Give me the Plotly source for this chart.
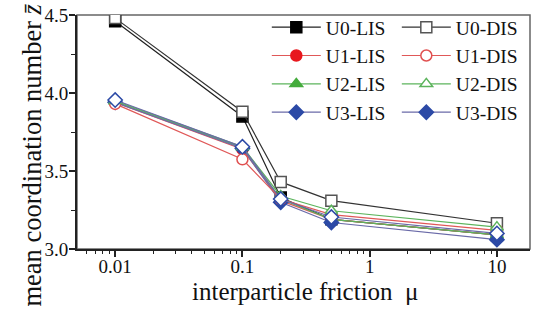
import plotly.graph_objects as go

mu = [0.01, 0.1, 0.2, 0.5, 10]

u0_lis = [4.46, 3.85, 3.33, 3.19, 3.09]
u0_dis = [4.48, 3.88, 3.43, 3.31, 3.165]
u1_lis = [3.94, 3.64, 3.31, 3.19, 3.09]
u1_dis = [3.93, 3.575, 3.32, 3.22, 3.12]
u2_lis = [3.945, 3.65, 3.32, 3.19, 3.09]
u2_dis = [3.95, 3.655, 3.34, 3.245, 3.14]
u3_lis = [3.94, 3.645, 3.30, 3.17, 3.06]
u3_dis = [3.955, 3.655, 3.32, 3.205, 3.10]

x_ticks = [0.01, 0.1, 1, 10]
x_ticktext = ["0.01", "0.1", "1", "10"]
y_ticks = [3.0, 3.5, 4.0, 4.5]
y_ticktext = ["3.0", "3.5", "4.0", "4.5"]

x_title = "interparticle friction  μ"
y_title = "mean coordination number <i>z\u0304</i>"

FONT = "Liberation Serif, Times New Roman, serif"

series = [
    # name, data, line color, marker symbol, marker fill, marker line color, legend
    ("U0-LIS", u0_lis, "#222222", "square", "#000000", "#000000", "legend"),
    ("U1-LIS", u1_lis, "#e05858", "circle", "#e8181e", "#e8181e", "legend"),
    ("U2-LIS", u2_lis, "#5cb45c", "triangle-up", "#44ac3c", "#44ac3c", "legend"),
    ("U3-LIS", u3_lis, "#6a6aa8", "diamond", "#2c4aa6", "#2c4aa6", "legend"),
    ("U0-DIS", u0_dis, "#333333", "square", "#ffffff", "#555555", "legend2"),
    ("U1-DIS", u1_dis, "#e05858", "circle", "#ffffff", "#e05050", "legend2"),
    ("U2-DIS", u2_dis, "#5cb45c", "triangle-up", "#ffffff", "#5cb45c", "legend2"),
    ("U3-DIS", u3_dis, "#6a6aa8", "diamond", "#ffffff", "#2c4aa6", "legend2"),
]

fig = go.Figure()
for name, vals, lc, sym, fill, mlc, leg in series:
    fig.add_trace(go.Scatter(
        x=mu, y=vals, mode="lines+markers", name=name,
        line=dict(color=lc, width=1.2),
        marker=dict(symbol=sym, size=11, color=fill, line=dict(color=mlc, width=1.5)),
        legend=leg, legendgroup=name, showlegend=(name != "U3-DIS"),
    ))

# legend entry for U3-DIS is drawn filled in the original legend
fig.add_trace(go.Scatter(
    x=[None], y=[None], mode="lines+markers", name="U3-DIS",
    line=dict(color="#6a6aa8", width=1.2),
    marker=dict(symbol="diamond", size=11, color="#2c4aa6", line=dict(color="#2c4aa6", width=1.5)),
    legend="legend2", legendgroup="U3-DIS-leg", showlegend=True,
))

legend_common = dict(
    font=dict(family=FONT, size=19.5, color="#111111"),
    bgcolor="rgba(0,0,0,0)", borderwidth=0,
    itemwidth=49, tracegroupgap=0,
    xanchor="left", yanchor="top", y=1.03,
)

fig.update_layout(
    width=537, height=310,
    autosize=False,
    margin=dict(l=77, r=7, t=15, b=61, autoexpand=False),
    paper_bgcolor="white", plot_bgcolor="white",
    font=dict(family=FONT, color="#111111"),
    legend=dict(x=0.4190, **legend_common),
    legend2=dict(x=0.7060, **legend_common),
    xaxis=dict(
        type="log", range=[-2.30, 1.26],
        tickvals=x_ticks, ticktext=x_ticktext,
        ticks="outside", ticklen=6, tickwidth=1.5, tickcolor="#222",
        minor=dict(ticks="outside", ticklen=3, tickwidth=1.2, tickcolor="#222", dtick="D1", showgrid=False),
        showgrid=False, zeroline=False,
        showline=True, linecolor="#222", linewidth=2,
        tickfont=dict(family=FONT, size=19, color="#111"),
        ticklabelstandoff=-7,
    ),
    yaxis=dict(
        range=[3.0, 4.5],
        tickvals=y_ticks, ticktext=y_ticktext,
        ticks="outside", ticklen=6, tickwidth=1.5, tickcolor="#222",
        minor=dict(ticks="outside", ticklen=4, tickwidth=1.2, tickcolor="#222", dtick=0.25, showgrid=False),
        showgrid=False, zeroline=False,
        showline=True, linecolor="#222", linewidth=2,
        tickfont=dict(family=FONT, size=19, color="#111"),
        ticklabelstandoff=-3,
    ),
    shapes=[dict(type="rect", xref="paper", yref="paper", x0=0, x1=1, y0=0, y1=1,
                 line=dict(color="#666666", width=1.5), layer="below")],
    annotations=[
        dict(text=x_title, xref="paper", yref="paper", x=0.5055, y=-0.182,
             xanchor="center", yanchor="middle", showarrow=False,
             font=dict(family=FONT, size=25, color="#111")),
        dict(text=y_title, xref="paper", yref="paper", x=-0.099, y=0.40,
             xanchor="center", yanchor="middle", textangle=-90, showarrow=False,
             font=dict(family=FONT, size=26.5, color="#111")),
    ],
)

fig.write_html(
    "out.html",
    config={"displayModeBar": False},
    post_script="document.body.style.margin='0';document.body.style.overflow='hidden';",
)
